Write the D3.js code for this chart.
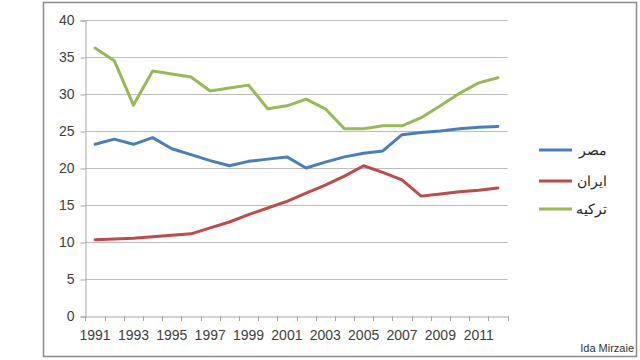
<!DOCTYPE html>
<html><head><meta charset="utf-8">
<script src="https://cdn.jsdelivr.net/npm/d3@7"></script>
<style>html,body{margin:0;padding:0;background:#fff;}svg{display:block;}</style>
</head><body>
<svg id="c" width="640" height="360"></svg>
<script>
const years = ["1991","1992","1993","1994","1995","1996","1997","1998","1999","2000","2001","2002","2003","2004","2005","2006","2007","2008","2009","2010","2011","2012"];
const egypt = [23.2,23.9,23.2,24.1,22.6,21.8,21.0,20.3,20.9,21.2,21.5,20.0,20.8,21.5,22.0,22.3,24.5,24.8,25.0,25.3,25.5,25.6];
const iran = [10.3,10.4,10.5,10.7,10.9,11.1,11.9,12.7,13.7,14.6,15.5,16.6,17.7,18.9,20.3,19.4,18.4,16.2,16.5,16.8,17.0,17.3];
const turkey = [36.2,34.5,28.5,33.1,32.7,32.3,30.4,30.8,31.2,28.0,28.4,29.3,28.0,25.3,25.3,25.7,25.7,26.8,28.4,30.1,31.5,32.2];
const seriesNames = ["مصر","ایران","ترکیه"];
const seriesColors = ["#4a7ebb","#be4b48","#98b954"];
const yTicks = [0,5,10,15,20,25,30,35,40];
const credit = "Ida Mirzaie";

const svg = d3.select("#c");
const font = "'Liberation Sans', Arial, sans-serif";
svg.append("rect").attr("x",43.5).attr("y",2.5).attr("width",593).attr("height",354)
  .attr("fill","#fff").attr("stroke","#8c8c8c").attr("stroke-width",1.5);

const L=85.5, R=507.5, T=20, B=316;
const x = d3.scaleBand().domain(years).range([L,R]);
const y = d3.scaleLinear().domain([0,40]).range([B,T]);

// gridlines
svg.append("g").selectAll("line").data(yTicks.filter(d=>d>0)).join("line")
  .attr("x1",L).attr("x2",R).attr("y1",d=>y(d)+0.5).attr("y2",d=>y(d)+0.5)
  .attr("stroke","#bdbdbd").attr("stroke-width",1);

// y axis
const ya = svg.append("g").attr("transform",`translate(${L},0.5)`)
  .call(d3.axisLeft(y).tickValues(yTicks).tickSize(5).tickPadding(6));
ya.select(".domain").attr("stroke","#a6a6a6");
ya.selectAll(".tick line").attr("stroke","#a6a6a6");
ya.selectAll("text").attr("font-family",font).attr("font-size",14).attr("fill","#404040");

// x axis
const xa = svg.append("g").attr("transform",`translate(0,${B+0.5})`)
  .call(d3.axisBottom(x).tickSize(0).tickPadding(14).tickFormat((d,i)=> i%2===0? d : ""));
xa.select(".domain").attr("stroke","#a6a6a6");
xa.selectAll("text").attr("font-family",font).attr("font-size",14).attr("fill","#404040");
// tick marks at band boundaries
const bounds = years.map(d=>x(d)).concat([R]);
svg.append("g").selectAll("line").data(bounds).join("line")
  .attr("x1",d=>Math.round(d)+0.5).attr("x2",d=>Math.round(d)+0.5)
  .attr("y1",B).attr("y2",B+5).attr("stroke","#a6a6a6");

// lines
const allSeries = [egypt, iran, turkey];
const line = d3.line().x((d,i)=>x(years[i])+x.bandwidth()/2).y(d=>y(d));
svg.append("g").selectAll("path").data(allSeries).join("path")
  .attr("d",line).attr("fill","none")
  .attr("stroke",(d,i)=>seriesColors[i]).attr("stroke-width",3)
  .attr("stroke-linejoin","round").attr("stroke-linecap","round");

// legend
const lg = svg.append("g");
const legY = [150,181,209];
seriesNames.forEach((n,i)=>{
  lg.append("line").attr("x1",539).attr("x2",572).attr("y1",legY[i]).attr("y2",legY[i])
    .attr("stroke",seriesColors[i]).attr("stroke-width",3);
  lg.append("text").attr("x",607).attr("y",legY[i]+5).attr("text-anchor","end")
    .attr("font-family",font).attr("font-size",14).attr("fill","#262626").text(n);
});

svg.append("text").attr("x",634).attr("y",352).attr("text-anchor","end")
  .attr("font-family",font).attr("font-size",11).attr("fill","#333").text(credit);
</script>
</body></html>
